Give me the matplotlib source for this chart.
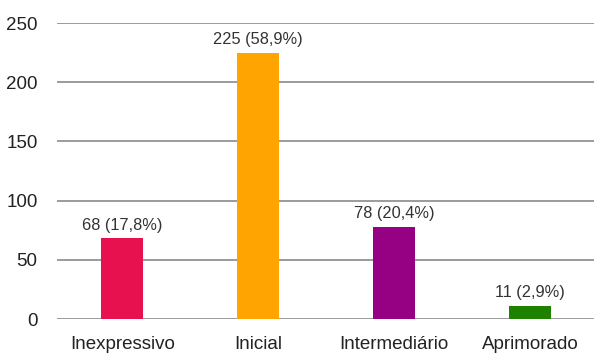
import matplotlib.pyplot as plt

categorias = ["Inexpressivo", "Inicial", "Intermediário", "Aprimorado"]
valores = [68, 225, 78, 11]
rotulos = ["68 (17,8%)", "225 (58,9%)", "78 (20,4%)", "11 (2,9%)"]
cores = ["#E8114F", "#FFA400", "#960082", "#1E8200"]

plt.rcParams['font.family'] = ['Liberation Sans', 'DejaVu Sans']

fig = plt.figure(figsize=(5.94, 3.55), dpi=100)
ax = fig.add_axes([57 / 594, 1 - 319 / 355, 537 / 594, 296 / 355])

x = range(len(categorias))
bars = ax.bar(x, valores, width=0.31, color=cores, zorder=3)
for b, txt in zip(bars, rotulos):
    ax.text(b.get_x() + b.get_width() / 2, b.get_height() + 5, txt,
            ha='center', va='bottom', fontsize=11.8, color='#333333')

ax.set_xlim(-0.48, 3.47)
ax.set_ylim(0, 250)
ax.set_yticks([0, 50, 100, 150, 200, 250])
ax.yaxis.grid(True, color='#808080', linewidth=1.1, zorder=0)
ax.set_xticks(list(x))
ax.set_xticklabels(categorias, fontsize=13.5, color='#222222')
ax.tick_params(axis='x', length=0, pad=12)
ax.tick_params(axis='y', length=0, pad=14, labelsize=13.5, labelcolor='#222222')
for s in ax.spines.values():
    s.set_visible(False)

plt.savefig("out.png", dpi=100)
